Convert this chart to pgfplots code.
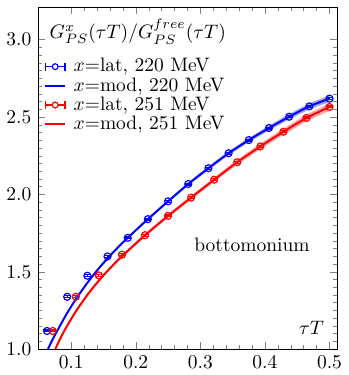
\documentclass[border=0pt]{standalone}
\usepackage{pgfplots}
\pgfplotsset{compat=1.18}
\begin{document}
\begin{tikzpicture}
\begin{axis}[
  scale only axis, width=153.5pt, height=175.5pt,
  xmin=0.049, xmax=0.512, ymin=1.0, ymax=3.21,
  xtick={0.1,0.2,0.3,0.4,0.5}, ytick={1.0,1.5,2.0,2.5,3.0},
  minor x tick num=4, minor y tick num=9,
  tick align=inside, tick pos=both,
  major tick length=3.6pt, minor tick length=2pt,
  xticklabel style={/pgf/number format/.cd,fixed,fixed zerofill,precision=1},
  yticklabel style={/pgf/number format/.cd,fixed,fixed zerofill,precision=1},
  legend style={at={(rel axis cs:0.0,0.874)}, anchor=north west, draw=none, fill=none,
    row sep=-2.6pt, column sep=2pt, font=\normalsize},
  legend cell align=left,
  clip=true,
]
% bands
\addplot[draw=none, fill=blue, fill opacity=0.35, forget plot] coordinates {
(0.064,1.008)(0.0703,1.063)(0.078125,1.124)(0.09375,1.241)(0.109375,1.344)(0.125,1.436)(0.140625,1.519)(0.15625,1.594)(0.171875,1.663)(0.1875,1.727)(0.21875,1.849)(0.25,1.965)(0.28125,2.078)(0.3125,2.181)(0.34375,2.279)(0.375,2.365)(0.40625,2.445)(0.4375,2.520)(0.46875,2.589)(0.5,2.641)
(0.5,2.597)(0.46875,2.549)(0.4375,2.484)(0.40625,2.413)(0.375,2.337)(0.34375,2.253)(0.3125,2.157)(0.28125,2.056)(0.25,1.945)(0.21875,1.831)(0.1875,1.711)(0.171875,1.647)(0.15625,1.578)(0.140625,1.503)(0.125,1.420)(0.109375,1.328)(0.09375,1.225)(0.078125,1.108)(0.0703,1.047)(0.064,0.992)
} -- cycle;
\addplot[draw=none, fill=red, fill opacity=0.35, forget plot] coordinates {
(0.0754,1.010)(0.0833,1.080)(0.0912,1.142)(0.1071,1.253)(0.125,1.360)(0.1429,1.453)(0.1607,1.535)(0.1786,1.610)(0.2143,1.747)(0.25,1.873)(0.2857,1.992)(0.3214,2.109)(0.3571,2.224)(0.3929,2.328)(0.4286,2.425)(0.4643,2.516)(0.5,2.589)
(0.5,2.541)(0.4643,2.472)(0.4286,2.385)(0.3929,2.292)(0.3571,2.192)(0.3214,2.081)(0.2857,1.966)(0.25,1.849)(0.2143,1.725)(0.1786,1.590)(0.1607,1.515)(0.1429,1.433)(0.125,1.340)(0.1071,1.233)(0.0912,1.122)(0.0833,1.060)(0.0754,0.990)
} -- cycle;
% lat 220
\addplot[blue, only marks, mark=o, mark size=1.8pt, mark options={line width=0.6pt}, forget plot,
  error bars/.cd, y dir=both, y fixed=0.006, error bar style={line width=0.6pt},
  error mark options={blue, mark size=1.8pt, line width=0.6pt, rotate=90},
] coordinates {
(0.0625,1.117)(0.09375,1.338)(0.125,1.474)(0.15625,1.599)(0.1875,1.719)(0.21875,1.840)(0.25,1.955)(0.28125,2.067)(0.3125,2.169)(0.34375,2.266)(0.375,2.351)(0.40625,2.429)(0.4375,2.502)(0.46875,2.569)(0.5,2.619)
};
% mod 220
\addplot[blue, line width=1pt, smooth, tension=0.5, forget plot] coordinates {
(0.064,1.000)(0.0703,1.055)(0.078125,1.116)(0.09375,1.233)(0.109375,1.336)(0.125,1.428)(0.140625,1.511)(0.15625,1.586)(0.171875,1.655)(0.1875,1.719)(0.21875,1.840)(0.25,1.955)(0.28125,2.067)(0.3125,2.169)(0.34375,2.266)(0.375,2.351)(0.40625,2.429)(0.4375,2.502)(0.46875,2.569)(0.5,2.619)
};
% lat 251
\addplot[red, only marks, mark=o, mark size=1.8pt, mark options={line width=0.6pt}, forget plot,
  error bars/.cd, y dir=both, y fixed=0.006, error bar style={line width=0.6pt},
  error mark options={red, mark size=1.8pt, line width=0.6pt, rotate=90},
] coordinates {
(0.0714,1.117)(0.1071,1.338)(0.1429,1.476)(0.1786,1.610)(0.2143,1.736)(0.25,1.861)(0.2857,1.979)(0.3214,2.095)(0.3571,2.208)(0.3929,2.310)(0.4286,2.405)(0.4643,2.494)(0.5,2.565)
};
% mod 251
\addplot[red, line width=1pt, smooth, tension=0.5, forget plot] coordinates {
(0.0754,1.000)(0.0833,1.07)(0.0912,1.132)(0.1071,1.243)(0.125,1.350)(0.1429,1.443)(0.1607,1.525)(0.1786,1.600)(0.2143,1.736)(0.25,1.861)(0.2857,1.979)(0.3214,2.095)(0.3571,2.208)(0.3929,2.310)(0.4286,2.405)(0.4643,2.494)(0.5,2.565)
};
\addlegendimage{legend image code/.code={
  \draw[blue, line width=0.6pt] (0pt,0pt)--(10pt,0pt) (0pt,-2pt)--(0pt,2pt) (10pt,-2pt)--(10pt,2pt);
  \draw[blue, line width=0.6pt, fill=white] (5pt,0pt) circle (1.5pt);}}
\addlegendentry{$x$=lat, 220 MeV}
\addlegendimage{legend image code/.code={\draw[blue, line width=1pt] (0pt,0pt)--(10pt,0pt);}}
\addlegendentry{$x$=mod, 220 MeV}
\addlegendimage{legend image code/.code={
  \draw[red, line width=0.6pt] (0pt,0pt)--(10pt,0pt) (0pt,-2pt)--(0pt,2pt) (10pt,-2pt)--(10pt,2pt);
  \draw[red, line width=0.6pt, fill=white] (5pt,0pt) circle (1.5pt);}}
\addlegendentry{$x$=lat, 251 MeV}
\addlegendimage{legend image code/.code={\draw[red, line width=1pt] (0pt,0pt)--(10pt,0pt);}}
\addlegendentry{$x$=mod, 251 MeV}
\node[anchor=base west, inner sep=0pt] at (rel axis cs:0.037,0.909) {$G^{x}_{PS}(\tau T)/G^{free}_{PS}(\tau T)$};
\node at (axis cs:0.38,1.675) {bottomonium};
\node at (axis cs:0.472,1.14) {$\tau T$};
\end{axis}
\path (current bounding box.north) ++(0,3.5pt);
\end{tikzpicture}
\end{document}
